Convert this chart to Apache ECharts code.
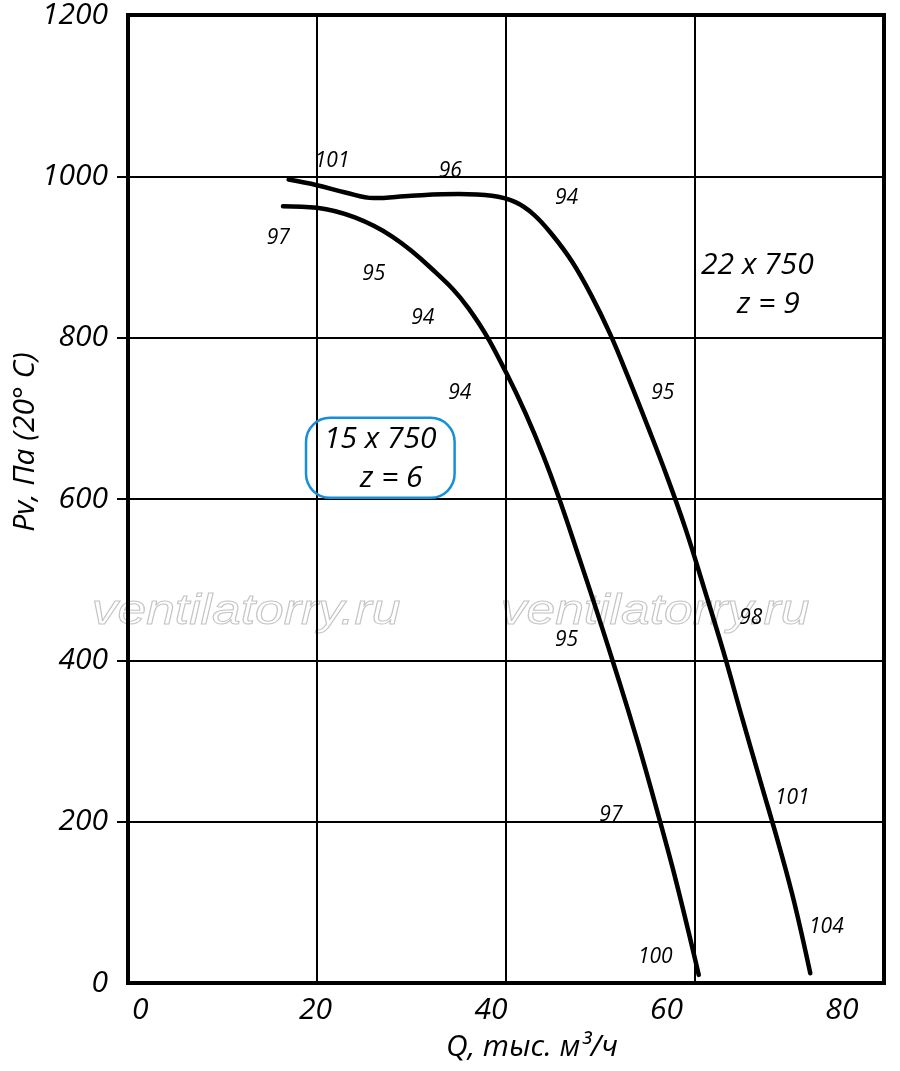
<!DOCTYPE html>
<html>
<head>
<meta charset="utf-8">
<title>Pv - Q</title>
<script src="https://cdn.jsdelivr.net/npm/echarts@6.0.0/dist/echarts.min.js"></script>
<style>
  html, body { margin: 0; padding: 0; background: #fff; }
  #chart { width: 900px; height: 1071px; }
</style>
</head>
<body>
<div id="chart"></div>
<script>
// curve 15 x 750, z = 6
const q15 = [16.4, 20, 24, 28, 32, 36, 40, 44, 48, 52, 54, 56, 58, 60.4];
const p15 = [963, 961, 949, 925, 887, 837, 757, 652, 518, 373, 296, 213, 126, 10];

// curve 22 x 750, z = 9
const q22 = [17, 20, 23, 26, 30, 35, 38.5, 41, 43, 45, 47, 49, 51, 53, 55, 57, 59, 61, 63, 65, 67, 69, 70.5, 72.2];
const p22 = [996, 989, 980, 973, 976, 978, 976, 968, 952, 926, 894, 853, 805, 749, 690, 629, 563, 488, 411, 328, 247, 166, 100, 12];

// efficiency marks along the curves
const effQ = [21.6, 34.1, 46.4, 15.9, 26.0, 31.2, 35.1, 56.6, 65.9, 46.4, 70.3, 51.1, 73.9, 55.8];
const effP = [1019, 1007, 973, 923, 879, 824, 732, 732, 453, 425, 229, 208, 69, 32];
const effText = ['101', '96', '94', '97', '95', '94', '94', '95', '98', '95', '101', '97', '104', '100'];

// axis ticks
const xTicks = [0, 20, 40, 60, 80];
const yTicks = [0, 200, 400, 600, 800, 1000, 1200];

const fanNote15 = { q: 26.7, p: 651, size: '15 x 750', z: 'z = 6' };
const fanNote22 = { q: 66.6, p: 867, size: '22 x 750', z: 'z = 9' };

const FONT = "'Open Sans', 'Noto Sans', sans-serif";

const chart = echarts.init(document.getElementById('chart'));

const noteLabel = (n, boxed) => ({
  show: true,
  position: 'inside',
  formatter: '{a|' + n.size + '}\n{b|' + n.z + '}',
  color: '#000',
  fontFamily: FONT,
  fontStyle: 'italic',
  fontSize: 30,
  borderColor: boxed ? '#1590d8' : 'transparent',
  borderWidth: boxed ? 2.5 : 0,
  borderRadius: 24,
  padding: [2, 18, 0, 18],
  rich: {
    a: { fontFamily: FONT, fontStyle: 'italic', fontSize: 30, lineHeight: 39, color: '#000' },
    b: { fontFamily: FONT, fontStyle: 'italic', fontSize: 30, lineHeight: 39, color: '#000', padding: [0, 0, 0, 22] }
  }
});

const watermark = (x) => ({
  type: 'text', x: x, y: 612, z: -10, scaleX: 1.2,
  style: {
    text: 'ventilatorry.ru',
    font: "italic 43px 'Liberation Sans'",
    fill: 'rgba(255,255,255,0)',
    stroke: '#c4c4c4',
    lineWidth: 1,
    align: 'center',
    verticalAlign: 'middle'
  }
});

const curveLine = { color: '#000', width: 4.5, cap: 'round', join: 'round' };

const option = {
  backgroundColor: '#fff',
  animation: false,
  grid: {
    left: 128, right: 16, top: 14, bottom: 88,
    show: true,
    borderColor: '#000',
    borderWidth: 4
  },
  xAxis: [
    {
      type: 'value',
      min: 0, max: 80, interval: 20,
      axisLine: { lineStyle: { color: '#000', width: 4 } },
      axisTick: { show: false },
      axisLabel: { show: false },
      splitLine: { lineStyle: { color: '#000', width: 2 } }
    },
    {
      // labels only, slightly shifted like the original drawing
      type: 'value',
      min: -1.39, max: 84.8,
      position: 'bottom',
      axisLine: { show: false },
      axisTick: { show: false },
      splitLine: { show: false },
      axisLabel: {
        customValues: xTicks,
        formatter: (v) => String(v),
        margin: 12,
        color: '#000',
        fontFamily: FONT,
        fontStyle: 'italic',
        fontSize: 30
      }
    }
  ],
  yAxis: {
    type: 'value',
    min: 0, max: 1200, interval: 200,
    axisLine: { lineStyle: { color: '#000', width: 4 } },
    axisTick: {
      show: true, length: 11,
      customValues: yTicks.slice(1, -1),
      lineStyle: { color: '#000', width: 2 }
    },
    axisLabel: {
      customValues: yTicks,
      formatter: (v) => String(v),
      margin: 20,
      color: '#000',
      fontFamily: FONT,
      fontStyle: 'italic',
      fontSize: 30
    },
    splitLine: { lineStyle: { color: '#000', width: 2 } }
  },
  graphic: [
    watermark(246),
    watermark(655),
    {
      type: 'text', x: 25, y: 442, rotation: Math.PI / 2,
      style: { text: 'Pv, Па (20° C)', font: "italic 30px " + FONT, fill: '#000', align: 'center', verticalAlign: 'middle' }
    },
    {
      type: 'text', x: 532, y: 1047,
      style: { text: 'Q, тыс. м³/ч', font: "italic 30px " + FONT, fill: '#000', align: 'center', verticalAlign: 'middle' }
    }
  ],
  series: [
    {
      name: '15 x 750',
      type: 'line',
      data: q15.map((q, i) => [q, p15[i]]),
      showSymbol: false,
      smooth: 0.4,
      lineStyle: curveLine,
      z: 5
    },
    {
      name: '22 x 750',
      type: 'line',
      data: q22.map((q, i) => [q, p22[i]]),
      showSymbol: false,
      smooth: 0.4,
      lineStyle: curveLine,
      z: 5
    },
    {
      name: 'eff',
      type: 'scatter',
      symbolSize: 0,
      itemStyle: { opacity: 1 },
      data: effQ.map((q, i) => [q, effP[i], effText[i]]),
      label: {
        show: true,
        position: 'inside',
        formatter: (p) => p.data[2],
        color: '#000',
        fontFamily: FONT,
        fontStyle: 'italic',
        fontSize: 21
      },
      z: 6
    },
    {
      name: 'note15',
      type: 'scatter',
      symbolSize: 0,
      itemStyle: { opacity: 1 },
      data: [[fanNote15.q, fanNote15.p]],
      label: noteLabel(fanNote15, true),
      z: 6
    },
    {
      name: 'note22',
      type: 'scatter',
      symbolSize: 0,
      itemStyle: { opacity: 1 },
      data: [[fanNote22.q, fanNote22.p]],
      label: noteLabel(fanNote22, false),
      z: 6
    }
  ]
};

chart.setOption(option);
</script>
</body>
</html>
